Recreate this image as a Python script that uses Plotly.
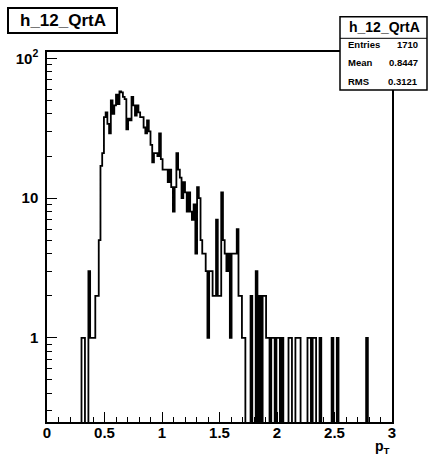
import numpy as np
import plotly.graph_objects as go

# ---- data -------------------------------------------------------------
hist_name = "h_12_QrtA"
x_min, x_max, n_bins = 0.0, 3.0, 200
counts = [
    0, 0, 0, 0, 0, 0, 0, 0, 0, 0,            # 0-9
    0, 0, 0, 0, 0, 0, 0, 0, 0, 0,            # 10-19
    1, 1, 0, 0, 3, 1, 1, 1, 2, 2,            # 20-29
    5, 17, 21, 38, 41, 34, 29, 50, 40, 46,   # 30-39
    55, 47, 58, 57, 53, 51, 31, 37, 36, 53,  # 40-49
    46, 39, 46, 41, 38, 38, 32, 29, 36, 30,  # 50-59
    24, 18, 21, 21, 20, 29, 19, 16, 16, 16,  # 60-69
    13, 16, 12, 8, 12, 21, 16, 14, 10, 13,   # 70-79
    11, 8, 11, 8, 7, 9, 4, 12, 10, 5,        # 80-89
    4, 4, 3, 1, 3, 3, 2, 2, 7, 2,            # 90-99
    2, 11, 5, 4, 3, 4, 1, 4, 4, 4,           # 100-109
    6, 2, 2, 1, 1, 0, 0, 0, 2, 0,            # 110-119
    0, 3, 0, 2, 0, 2, 2, 1, 1, 0,            # 120-129
    1, 1, 0, 1, 1, 0, 1, 0, 0, 0,            # 130-139
    1, 1, 0, 0, 1, 1, 1, 0, 0, 0,            # 140-149
    0, 1, 1, 0, 1, 1, 0, 0, 1, 0,            # 150-159
    0, 0, 0, 0, 0, 1, 0, 0, 1, 0,            # 160-169
    0, 0, 0, 0, 0, 0, 0, 0, 0, 0,            # 170-179
    0, 0, 0, 0, 0, 1, 0, 0, 0, 0,            # 180-189
    0, 0, 0, 0, 0, 0, 0, 0, 0, 0,            # 190-199
]
stats_labels = ["Entries", "Mean", "RMS"]
stats_values = ["1710", "0.8447", "0.3121"]
x_tick_vals = [0, 0.5, 1, 1.5, 2, 2.5, 3]
x_tick_text = ["0", "0.5", "1", "1.5", "2", "2.5", "3"]
y_tick_vals = [1, 10, 100]
y_tick_text = ["1", "10", "10<sup>2</sup>"]
y_min, y_max = 0.25, 111.0
x_title = "p<sub>T</sub>"

# ---- figure -----------------------------------------------------------
edges = np.linspace(x_min, x_max, n_bins + 1)
c = np.array(counts, dtype=float)
y_plot = np.where(c > 0, c, 0.05)          # empty bins drop below the log axis
xs = list(edges[:-1]) + [edges[-1]]
ys = list(y_plot) + [y_plot[-1]]

FONT = "Liberation Sans, Arial, Helvetica, sans-serif"

fig = go.Figure()
fig.add_trace(go.Scatter(x=xs, y=ys, mode="lines", line_shape="hv",
                         line=dict(color="black", width=1.8),
                         hoverinfo="skip", showlegend=False))

W, H = 428, 457
L, R, T, B = 47, 36, 52, 35
pw, ph = W - L - R, H - T - B

def px(xp):
    return (xp - L) / pw

def py(yp):
    return (H - B - yp) / ph

fig.update_layout(
    width=W, height=H,
    margin=dict(l=L, r=R, t=T, b=B, pad=0),
    paper_bgcolor="white", plot_bgcolor="white",
    font=dict(family=FONT, color="black"),
    showlegend=False,
)
fig.update_xaxes(
    range=[x_min, x_max], showgrid=False, zeroline=False,
    showline=True, linecolor="black", linewidth=1.5, mirror=True,
    ticks="inside", ticklen=10, tickwidth=1.2, tickcolor="black",
    tickmode="array", tickvals=x_tick_vals,
    ticktext=["<b>%s</b>" % t for t in x_tick_text],
    tickfont=dict(family=FONT, size=15, color="black"),
    ticklabelstandoff=-4,
    minor=dict(ticks="inside", ticklen=5, tickwidth=1.2, tickcolor="black",
               dtick=0.1, showgrid=False),
)
fig.update_yaxes(
    type="log", range=[np.log10(y_min), np.log10(y_max)],
    showgrid=False, zeroline=False,
    showline=True, linecolor="black", linewidth=1.5, mirror=True,
    ticks="inside", ticklen=10, tickwidth=1.2, tickcolor="black",
    tickmode="array", tickvals=y_tick_vals,
    ticktext=["<b>%s</b>" % t for t in y_tick_text],
    tickfont=dict(family=FONT, size=15, color="black"),
    ticklabelstandoff=4,
    minor=dict(ticks="inside", ticklen=5, tickwidth=1.2, tickcolor="black",
               dtick="D1", showgrid=False),
)

# title box
fig.add_shape(type="rect", xref="paper", yref="paper",
              x0=px(8), x1=px(117), y0=py(33), y1=py(8),
              line=dict(color="black", width=2), fillcolor="white", layer="above")
fig.add_annotation(xref="paper", yref="paper", x=px(62.5), y=py(20.5),
                   text="<b>%s</b>" % hist_name, showarrow=False,
                   xanchor="center", yanchor="middle",
                   font=dict(family=FONT, size=17, color="black"))

# stats box
fig.add_shape(type="rect", xref="paper", yref="paper",
              x0=px(340), x1=px(427), y0=py(90), y1=py(16.7),
              line=dict(color="black", width=1.5), fillcolor="white", layer="above")
fig.add_shape(type="line", xref="paper", yref="paper",
              x0=px(340), x1=px(427), y0=py(38.3), y1=py(38.3),
              line=dict(color="black", width=1), layer="above")
fig.add_annotation(xref="paper", yref="paper", x=px(384), y=py(27.5),
                   text="<b>%s</b>" % hist_name, showarrow=False,
                   xanchor="center", yanchor="middle",
                   font=dict(family=FONT, size=14, color="black"))
row_y = [44.3, 62.7, 81.7]
for lab, val, yy in zip(stats_labels, stats_values, row_y):
    fig.add_annotation(xref="paper", yref="paper", x=px(345.5), y=py(yy),
                       text="<b>%s</b>" % lab, showarrow=False,
                       xanchor="left", yanchor="middle",
                       font=dict(family=FONT, size=9.5, color="black"))
    fig.add_annotation(xref="paper", yref="paper", x=px(420), y=py(yy),
                       text="<b>%s</b>" % val, showarrow=False,
                       xanchor="right", yanchor="middle",
                       font=dict(family=FONT, size=9.5, color="black"))

# x-axis title
fig.add_annotation(xref="paper", yref="paper", x=1.0, y=py(447),
                   text="<b>%s</b>" % x_title, showarrow=False,
                   xanchor="right", yanchor="middle",
                   font=dict(family=FONT, size=14, color="black"))

fig.write_html(
    "out.html",
    config={"displayModeBar": False},
    post_script="document.body.style.margin='0';document.body.style.padding='0';"
                "document.body.style.overflow='hidden';"
                "document.documentElement.style.overflow='hidden';",
)
